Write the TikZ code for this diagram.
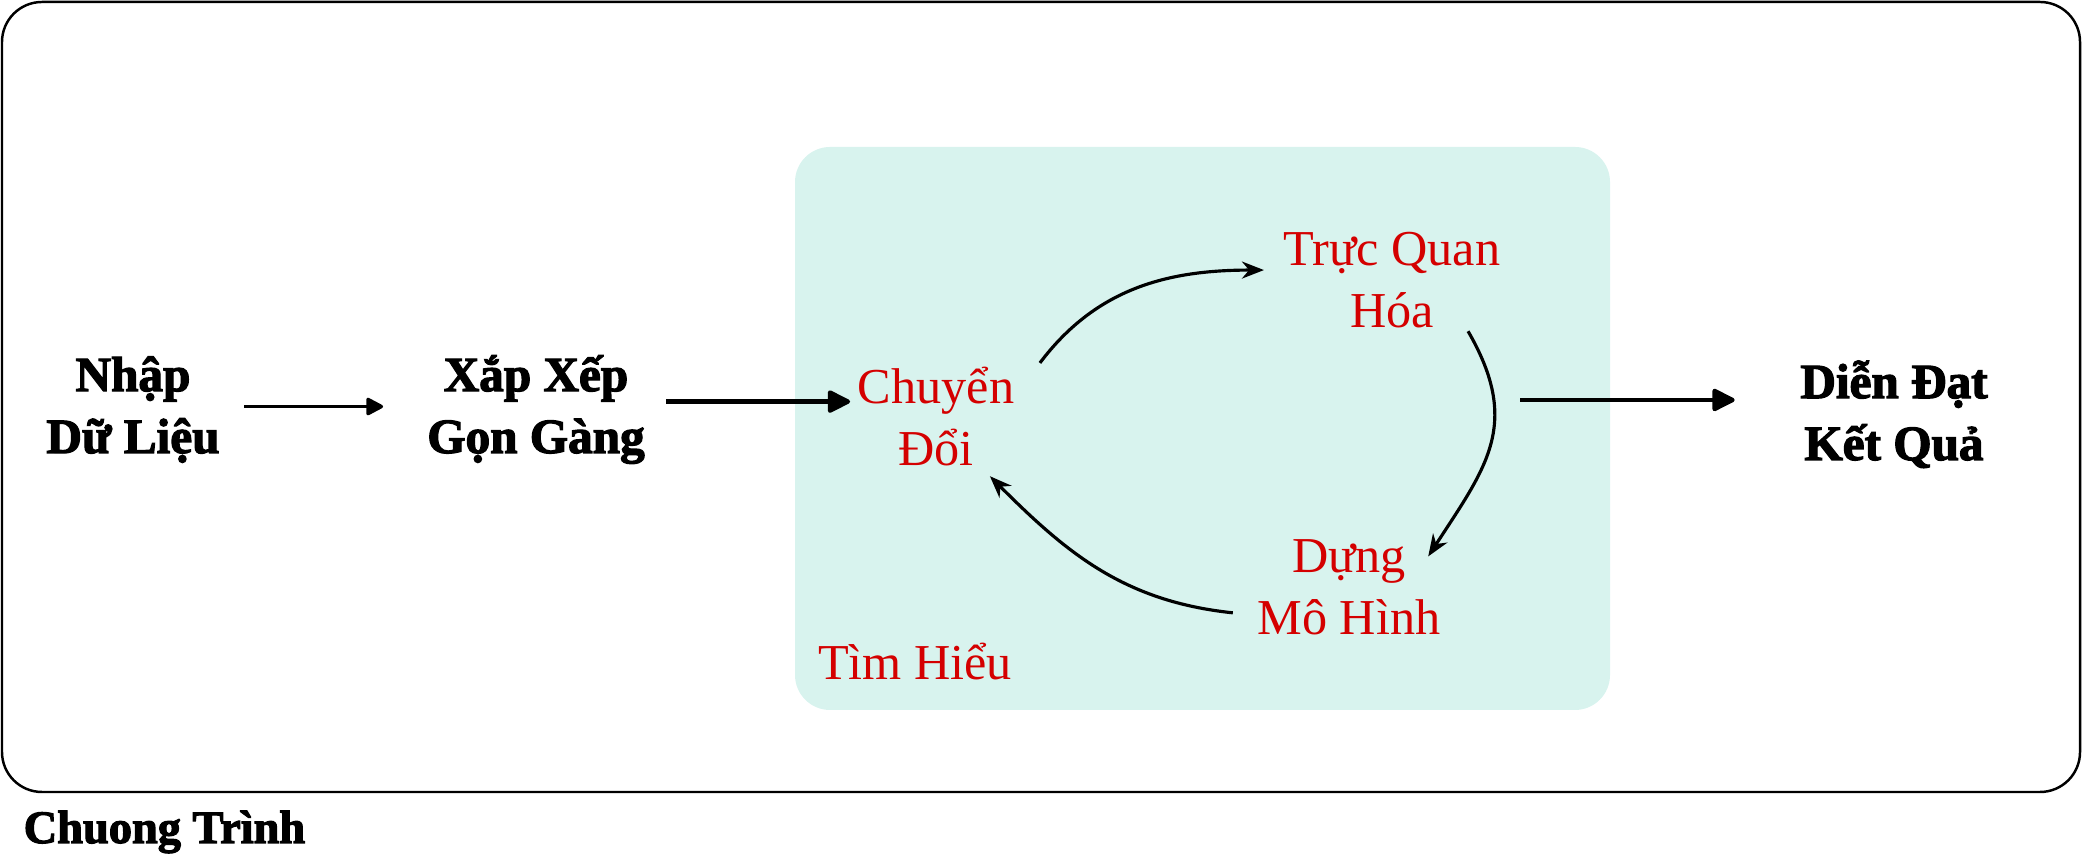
\documentclass[tikz,border=0pt]{standalone}
\usepackage{fontspec}
\setmainfont{Liberation Serif}
\newfontfamily\heavyfont[FakeBold=2.5]{Liberation Serif Bold}
\usetikzlibrary{arrows.meta, positioning}
\definecolor{loopteal}{RGB}{216,243,238}
\definecolor{stepred}{RGB}{212,0,0}

\begin{document}
\begin{tikzpicture}[
        stage/.style={align=center, inner sep=2pt, anchor=base, font=\heavyfont\fontsize{14}{17.6}\selectfont},
        task/.style={align=center, inner sep=2pt, anchor=base, text=stepred, font=\fontsize{14.3}{17.9}\selectfont},
        frame/.style={rectangle, rounded corners=0.4cm, draw=black, line width=0.7pt, minimum width=20.78cm, minimum height=7.9cm},
        loopbox/.style={rectangle, rounded corners=0.35cm, fill=loopteal, minimum width=8.15cm, minimum height=5.63cm},
        flow/.style={line width=1pt, -{Triangle[round, length=0.19cm, width=0.19cm]}},
        bigflow/.style={line width=1.2pt, -{Triangle[round, length=0.25cm, width=0.24cm]}},
        cycle/.style={line width=0.9pt, -{Stealth[length=0.22cm, width=0.17cm]}}
    ]
        \useasboundingbox (0,0) rectangle (20.82,8.64);

        % Frames
        \node (program) [frame] at (10.41,4.67) {};
        \node (explore) [loopbox] at (12.025,4.355) {};

        % Steps outside the loop
        \node (import) [stage] at (1.33,4.11) {Nhập\\Dữ Liệu};
        \node (tidy) [stage] at (5.36,4.11) {Xắp Xếp\\Gọn Gàng};
        \node (report) [stage] at (18.94,4.04) {Diễn Đạt\\Kết Quả};
        \node (progname) [stage, anchor=base west, font=\heavyfont\fontsize{13.2}{15}\selectfont] at (0.16,0.21) {Chuong Trình};

        % Steps inside the loop
        \node (transform) [task] at (9.36,3.98) {Chuyển\\Đổi};
        \node (visual) [task] at (13.92,5.36) {Trực Quan\\Hóa};
        \node (model) [task] at (13.49,2.29) {Dựng\\Mô Hình};
        \node (loopname) [task] at (9.15,1.84) {Tìm Hiểu};
        \coordinate (loopout) at (15.20,4.64);

        % Straight arrows
        \draw [flow, shorten <=0.17cm, shorten >=0.365cm] ([yshift=0.03cm]import.east) -- ([yshift=0.03cm]import.east -| tidy.west);
        \draw [bigflow, shorten <=0.14cm] ([yshift=0.08cm]tidy.east) -- ([yshift=0.08cm]tidy.east -| transform.west);
        \draw [bigflow, shorten >=0.58cm] (loopout) -- (loopout -| report.west);

        % Loop arrows
        \draw [cycle] ([shift={(0.18,-0.04)}]transform.north east) to[out=53, in=180] ([shift={(-0.12,-0.46)}]visual.north west);
        \draw [cycle] ([shift={(-0.40,0.05)}]visual.south east) to[out=-60, in=57, looseness=1.2] ([shift={(-0.20,-0.25)}]model.north east);
        \draw [cycle] ([shift={(-0.17,-0.255)}]model.west) to[out=174, in=-45] ([shift={(-0.32,-0.02)}]transform.south east);

    \end{tikzpicture}
\end{document}
